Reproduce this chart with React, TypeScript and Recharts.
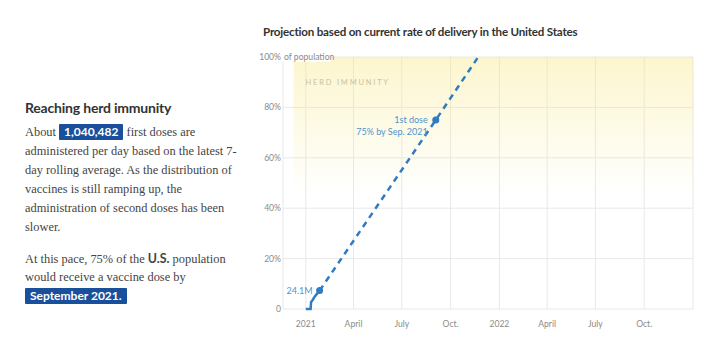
import React from 'react';
import { LineChart, Line, XAxis, YAxis, CartesianGrid, ReferenceArea, ReferenceDot } from 'recharts';

const toTs = (d: string) => Date.parse(d + 'T00:00:00Z');

// first doses given so far, % of U.S. population
const actualDates = ['2021-01-01', '2021-01-10', '2021-01-11', '2021-01-14', '2021-01-18', '2021-01-22', '2021-01-27'];
const actualPct = [0, 0, 2.8, 3.6, 5.0, 6.0, 7.3];

// projection at current pace
const projDates = ['2021-01-27', '2021-09-03', '2021-11-22'];
const projPct = [7.3, 75, 100];

const xTickDates = ['2021-01-01', '2021-04-01', '2021-07-01', '2021-10-01', '2022-01-01', '2022-04-01', '2022-07-01', '2022-10-01'];
const xTickLabels = ['2021', 'April', 'July', 'Oct.', '2022', 'April', 'July', 'Oct.'];
const yTicks = [0, 20, 40, 60, 80, 100];
const domainDates = ['2020-11-19', '2023-01-01'];
const herdStart = '2020-12-09';

const actualData = actualDates.map((d, i) => ({ t: toTs(d), v: actualPct[i] }));
const projData = projDates.map((d, i) => ({ t: toTs(d), v: projPct[i] }));
const xTicks = xTickDates.map(toTs);

const BLUE = '#2f7cc1';
const LABEL_BLUE = '#4f94d0';
const SANS = 'Lato, "Noto Sans", sans-serif';
const SERIF = '"Liberation Serif", serif';

const YTick = (props: any) => {
    const { x, y, payload } = props;
    const v = payload.value;
    if (v === 100) {
        return (
            <g>
                <rect x={x - 20} y={y - 6} width={70} height={11} fill="#fff" />
                <text x={x} y={y} dy={3} textAnchor="end" fontSize={8.6} fill="#8a8a8a" fontFamily={SANS}>100%</text>
                <text x={x + 3} y={y} dy={3} textAnchor="start" fontSize={8.6} fill="#8a8a8a" fontFamily={SANS}>of population</text>
            </g>
        );
    }
    return (
        <text x={x} y={y} dy={3} textAnchor="end" fontSize={8.6} fill="#8a8a8a" fontFamily={SANS}>
            {v === 0 ? '0' : `${v}%`}
        </text>
    );
};

// centre of a ReferenceDot's label box
const dotCenter = (vb: any) => ({ cx: vb.x + vb.width / 2, cy: vb.y + vb.height / 2 });

const Box = ({ children }: { children: React.ReactNode }) => (
    <span style={{
        display: 'inline-block', background: '#1a4f9c', color: '#fff', fontFamily: SANS,
        fontWeight: 700, fontSize: 12, lineHeight: '16px', padding: '0 5px', borderRadius: 1,
    }}>{children}</span>
);

const lineStyle: React.CSSProperties = { height: 19, lineHeight: '19px', whiteSpace: 'nowrap' };

export default function App() {
    const last = actualData[actualData.length - 1];
    const mid = projData[1];
    return (
        <div style={{ position: 'absolute', left: 0, top: 0, width: 720, height: 357, background: '#fff', overflow: 'hidden' }}>
            {/* left text */}
            <div style={{ position: 'absolute', left: 25, top: 99, fontFamily: SANS, fontWeight: 700, fontSize: 14, letterSpacing: -0.2, color: '#333', lineHeight: '18px' }}>
                Reaching herd immunity
            </div>
            <div style={{ position: 'absolute', left: 25, top: 123, fontFamily: SERIF, fontSize: 12.4, color: '#444' }}>
                <div style={lineStyle}>About <Box>1,040,482</Box> first doses are</div>
                <div style={lineStyle}>administered per day based on the latest 7-</div>
                <div style={lineStyle}>day rolling average. As the distribution of</div>
                <div style={lineStyle}>vaccines is still ramping up, the</div>
                <div style={lineStyle}>administration of second doses has been</div>
                <div style={lineStyle}>slower.</div>
                <div style={{ height: 12 }} />
                <div style={lineStyle}>At this pace, 75% of the <b style={{ fontFamily: SANS }}>U.S.</b> population</div>
                <div style={lineStyle}>would receive a vaccine dose by</div>
                <div style={lineStyle}><Box>September 2021.</Box></div>
            </div>

            {/* chart title */}
            <div style={{ position: 'absolute', left: 263, top: 25, fontFamily: SANS, fontWeight: 700, fontSize: 11.6, letterSpacing: -0.2, color: '#333', whiteSpace: 'nowrap' }}>
                Projection based on current rate of delivery in the United States
            </div>

            <div style={{ position: 'absolute', left: 250, top: 20 }}>
                <LineChart width={470} height={330} margin={{ top: 37, right: 27, bottom: 16, left: 0 }}>
                    <defs>
                        <linearGradient id="herd" x1="0" y1="0" x2="0" y2="1">
                            <stop offset="0" stopColor="#f8e98a" stopOpacity={0.42} />
                            <stop offset="1" stopColor="#f8e98a" stopOpacity={0} />
                        </linearGradient>
                    </defs>
                    <ReferenceArea
                        x1={toTs(herdStart)} x2={toTs(domainDates[1])} y1={45} y2={100}
                        fill="url(#herd)" fillOpacity={1} stroke="none"
                        label={(p: any) => (
                            <text x={p.viewBox.x + 12} y={p.viewBox.y + 28} fontSize={7.5} letterSpacing={1.8}
                                fill="#c9c2a5" fontFamily={SANS}>HERD IMMUNITY</text>
                        )}
                    />
                    <CartesianGrid stroke="#e8e8e8" />
                    <XAxis
                        dataKey="t" type="number" scale="time" allowDataOverflow
                        domain={[toTs(domainDates[0]), toTs(domainDates[1])]}
                        ticks={xTicks}
                        tickFormatter={(t: number) => xTickLabels[xTicks.indexOf(t)]}
                        axisLine={false} tickLine={false} tickSize={0} tickMargin={12} height={25}
                        tick={{ fontSize: 8.6, fill: '#8a8a8a', fontFamily: SANS }}
                    />
                    <YAxis
                        type="number" domain={[0, 100]} ticks={yTicks} width={33}
                        axisLine={false} tickLine={false} tickSize={0} tickMargin={2}
                        tick={<YTick />}
                    />
                    <Line data={projData} dataKey="v" stroke={BLUE} strokeWidth={2.5} strokeDasharray="6 5"
                        dot={false} isAnimationActive={false} />
                    <Line data={actualData} dataKey="v" stroke={BLUE} strokeWidth={2.5} type="linear"
                        dot={false} isAnimationActive={false} />
                    <ReferenceDot x={last.t} y={last.v} r={3.5} fill={BLUE} stroke="none"
                        label={(p: any) => {
                            const { cx, cy } = dotCenter(p.viewBox);
                            return (
                                <text x={cx - 7} y={cy + 3} textAnchor="end" fontSize={9}
                                    fill={LABEL_BLUE} fontFamily={SANS}>24.1M</text>
                            );
                        }}
                    />
                    <ReferenceDot x={mid.t} y={mid.v} r={3.5} fill={BLUE} stroke="none"
                        label={(p: any) => {
                            const { cx, cy } = dotCenter(p.viewBox);
                            return (
                                <g>
                                    <text x={cx - 8} y={cy + 3} textAnchor="end" fontSize={9}
                                        fill={LABEL_BLUE} fontFamily={SANS}>1st dose</text>
                                    <text x={cx - 8} y={cy + 15} textAnchor="end" fontSize={9}
                                        fill={LABEL_BLUE} fontFamily={SANS}>75% by Sep. 2021</text>
                                </g>
                            );
                        }}
                    />
                </LineChart>
            </div>
        </div>
    );
}
